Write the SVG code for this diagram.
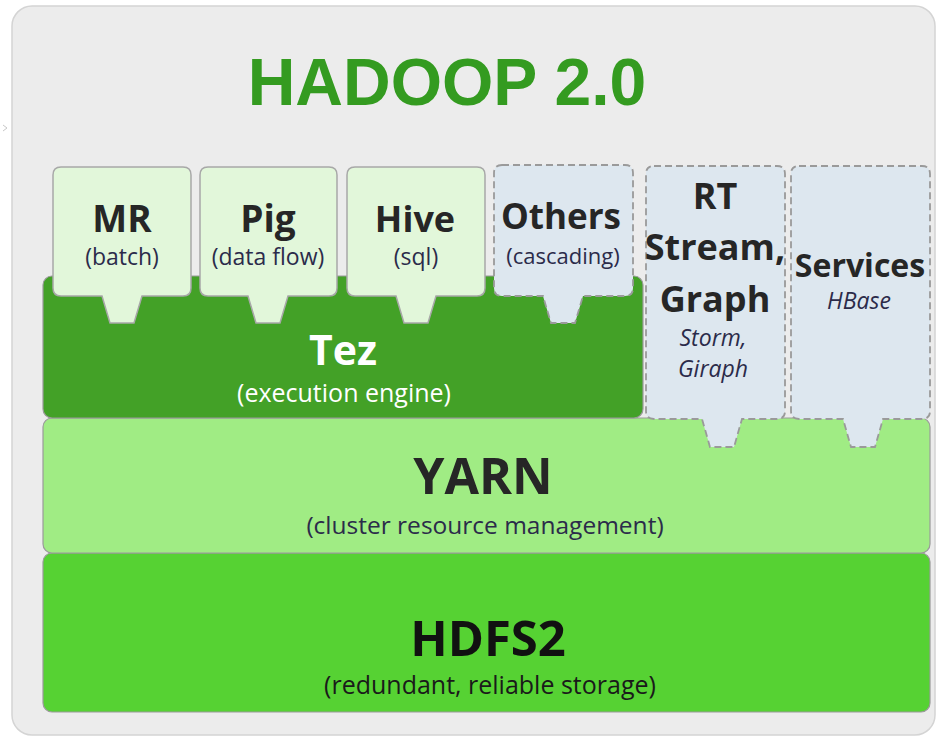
<svg xmlns="http://www.w3.org/2000/svg" width="939" height="737" viewBox="0 0 939 737">
<style>
.lbl{font-family:"Open Sans","Noto Sans","Liberation Sans",sans-serif;font-weight:bold;fill:#262626;text-anchor:middle}
.sub{font-family:"Open Sans","Noto Sans","Liberation Sans",sans-serif;fill:#2b2b4a;text-anchor:middle}
.it{font-family:"Open Sans","Noto Sans","Liberation Sans",sans-serif;font-style:italic;fill:#2b2b4a;text-anchor:middle}
.solid{fill:#e2f7da;stroke:#a8a8a8;stroke-width:1.5}
.dash{fill:#dde7ef;stroke:#9a9a9a;stroke-width:1.8;stroke-dasharray:7 4}
.layer{stroke:#9a9a9a;stroke-width:1.2}
</style>
<rect x="0" y="0" width="939" height="737" fill="#ffffff"/>
<rect x="12" y="6" width="923" height="729" rx="20" fill="#ececec" stroke="#d4d4d4" stroke-width="1.5"/>
<path d="M3 125 L7 128 L3 131" fill="none" stroke="#c8c8c8" stroke-width="1"/>
<text x="447" y="105" font-family="'Liberation Sans',Arial,sans-serif" font-weight="bold" font-size="66" fill="#349b20" text-anchor="middle">HADOOP 2.0</text>

<g id="hdfs2">
<rect class="layer" x="43" y="553" width="887" height="159" rx="9" fill="#56d233"/>
<text class="lbl" x="488" y="656" font-size="49" style="fill:#111">HDFS2</text>
<text class="sub" x="490" y="694" font-size="25" style="fill:#1a1a1a">(redundant, reliable storage)</text>
</g>

<g id="yarn">
<rect class="layer" x="43" y="418" width="887" height="135" rx="9" fill="#a0ec84"/>
<text class="lbl" x="483" y="494" font-size="50">YARN</text>
<text class="sub" x="485" y="534" font-size="24.5">(cluster resource management)</text>
</g>

<g id="tez">
<rect class="layer" x="43" y="276" width="600" height="142" rx="9" fill="#43a127"/>
<text class="lbl" x="343" y="365" font-size="41" style="fill:#ffffff">Tez</text>
<text class="sub" x="344" y="402" font-size="25" style="fill:#ffffff">(execution engine)</text>
</g>

<g id="mr">
<path class="solid" d="M61 167 H183 Q191 167 191 175 V288 Q191 296 183 296 H142 L134 323 H110 L102 296 H61 Q53 296 53 288 V175 Q53 167 61 167 Z"/>
<text class="lbl" x="122" y="232" font-size="37">MR</text>
<text class="sub" x="122" y="265" font-size="23">(batch)</text>
</g>

<g id="pig">
<path class="solid" d="M208 167 H329 Q337 167 337 175 V288 Q337 296 329 296 H288 L280 323 H256 L248 296 H208 Q200 296 200 288 V175 Q200 167 208 167 Z"/>
<text class="lbl" x="268" y="232" font-size="37">Pig</text>
<text class="sub" x="268" y="265" font-size="23">(data flow)</text>
</g>

<g id="hive">
<path class="solid" d="M355 167 H477 Q485 167 485 175 V288 Q485 296 477 296 H436 L428 323 H404 L396 296 H355 Q347 296 347 288 V175 Q347 167 355 167 Z"/>
<text class="lbl" x="415" y="232" font-size="36">Hive</text>
<text class="sub" x="416" y="265" font-size="23">(sql)</text>
</g>

<g id="others">
<path class="dash" d="M502 165 H625 Q633 165 633 173 V288 Q633 296 625 296 H583 L575 323 H551 L543 296 H502 Q494 296 494 288 V173 Q494 165 502 165 Z"/>
<text class="lbl" x="561" y="229" font-size="35">Others</text>
<text class="sub" x="563" y="264" font-size="22">(cascading)</text>
</g>

<g id="rt">
<path class="dash" d="M654 166 H777 Q785 166 785 174 V411 Q785 419 777 419 H742 L734 447 H710 L702 419 H654 Q646 419 646 411 V174 Q646 166 654 166 Z"/>
<text class="lbl" x="715" y="209" font-size="36">RT</text>
<text class="lbl" x="715" y="260" font-size="36">Stream,</text>
<text class="lbl" x="715" y="312" font-size="36">Graph</text>
<text class="it" x="713" y="346" font-size="23">Storm,</text>
<text class="it" x="713" y="377" font-size="23">Giraph</text>
</g>

<g id="services">
<path class="dash" d="M799 166 H922 Q930 166 930 174 V411 Q930 419 922 419 H883 L875 447 H851 L843 419 H799 Q791 419 791 411 V174 Q791 166 799 166 Z"/>
<text class="lbl" x="860" y="277" font-size="32">Services</text>
<text class="it" x="859" y="309" font-size="23">HBase</text>
</g>

<g id="connectors"></g>
</svg>
